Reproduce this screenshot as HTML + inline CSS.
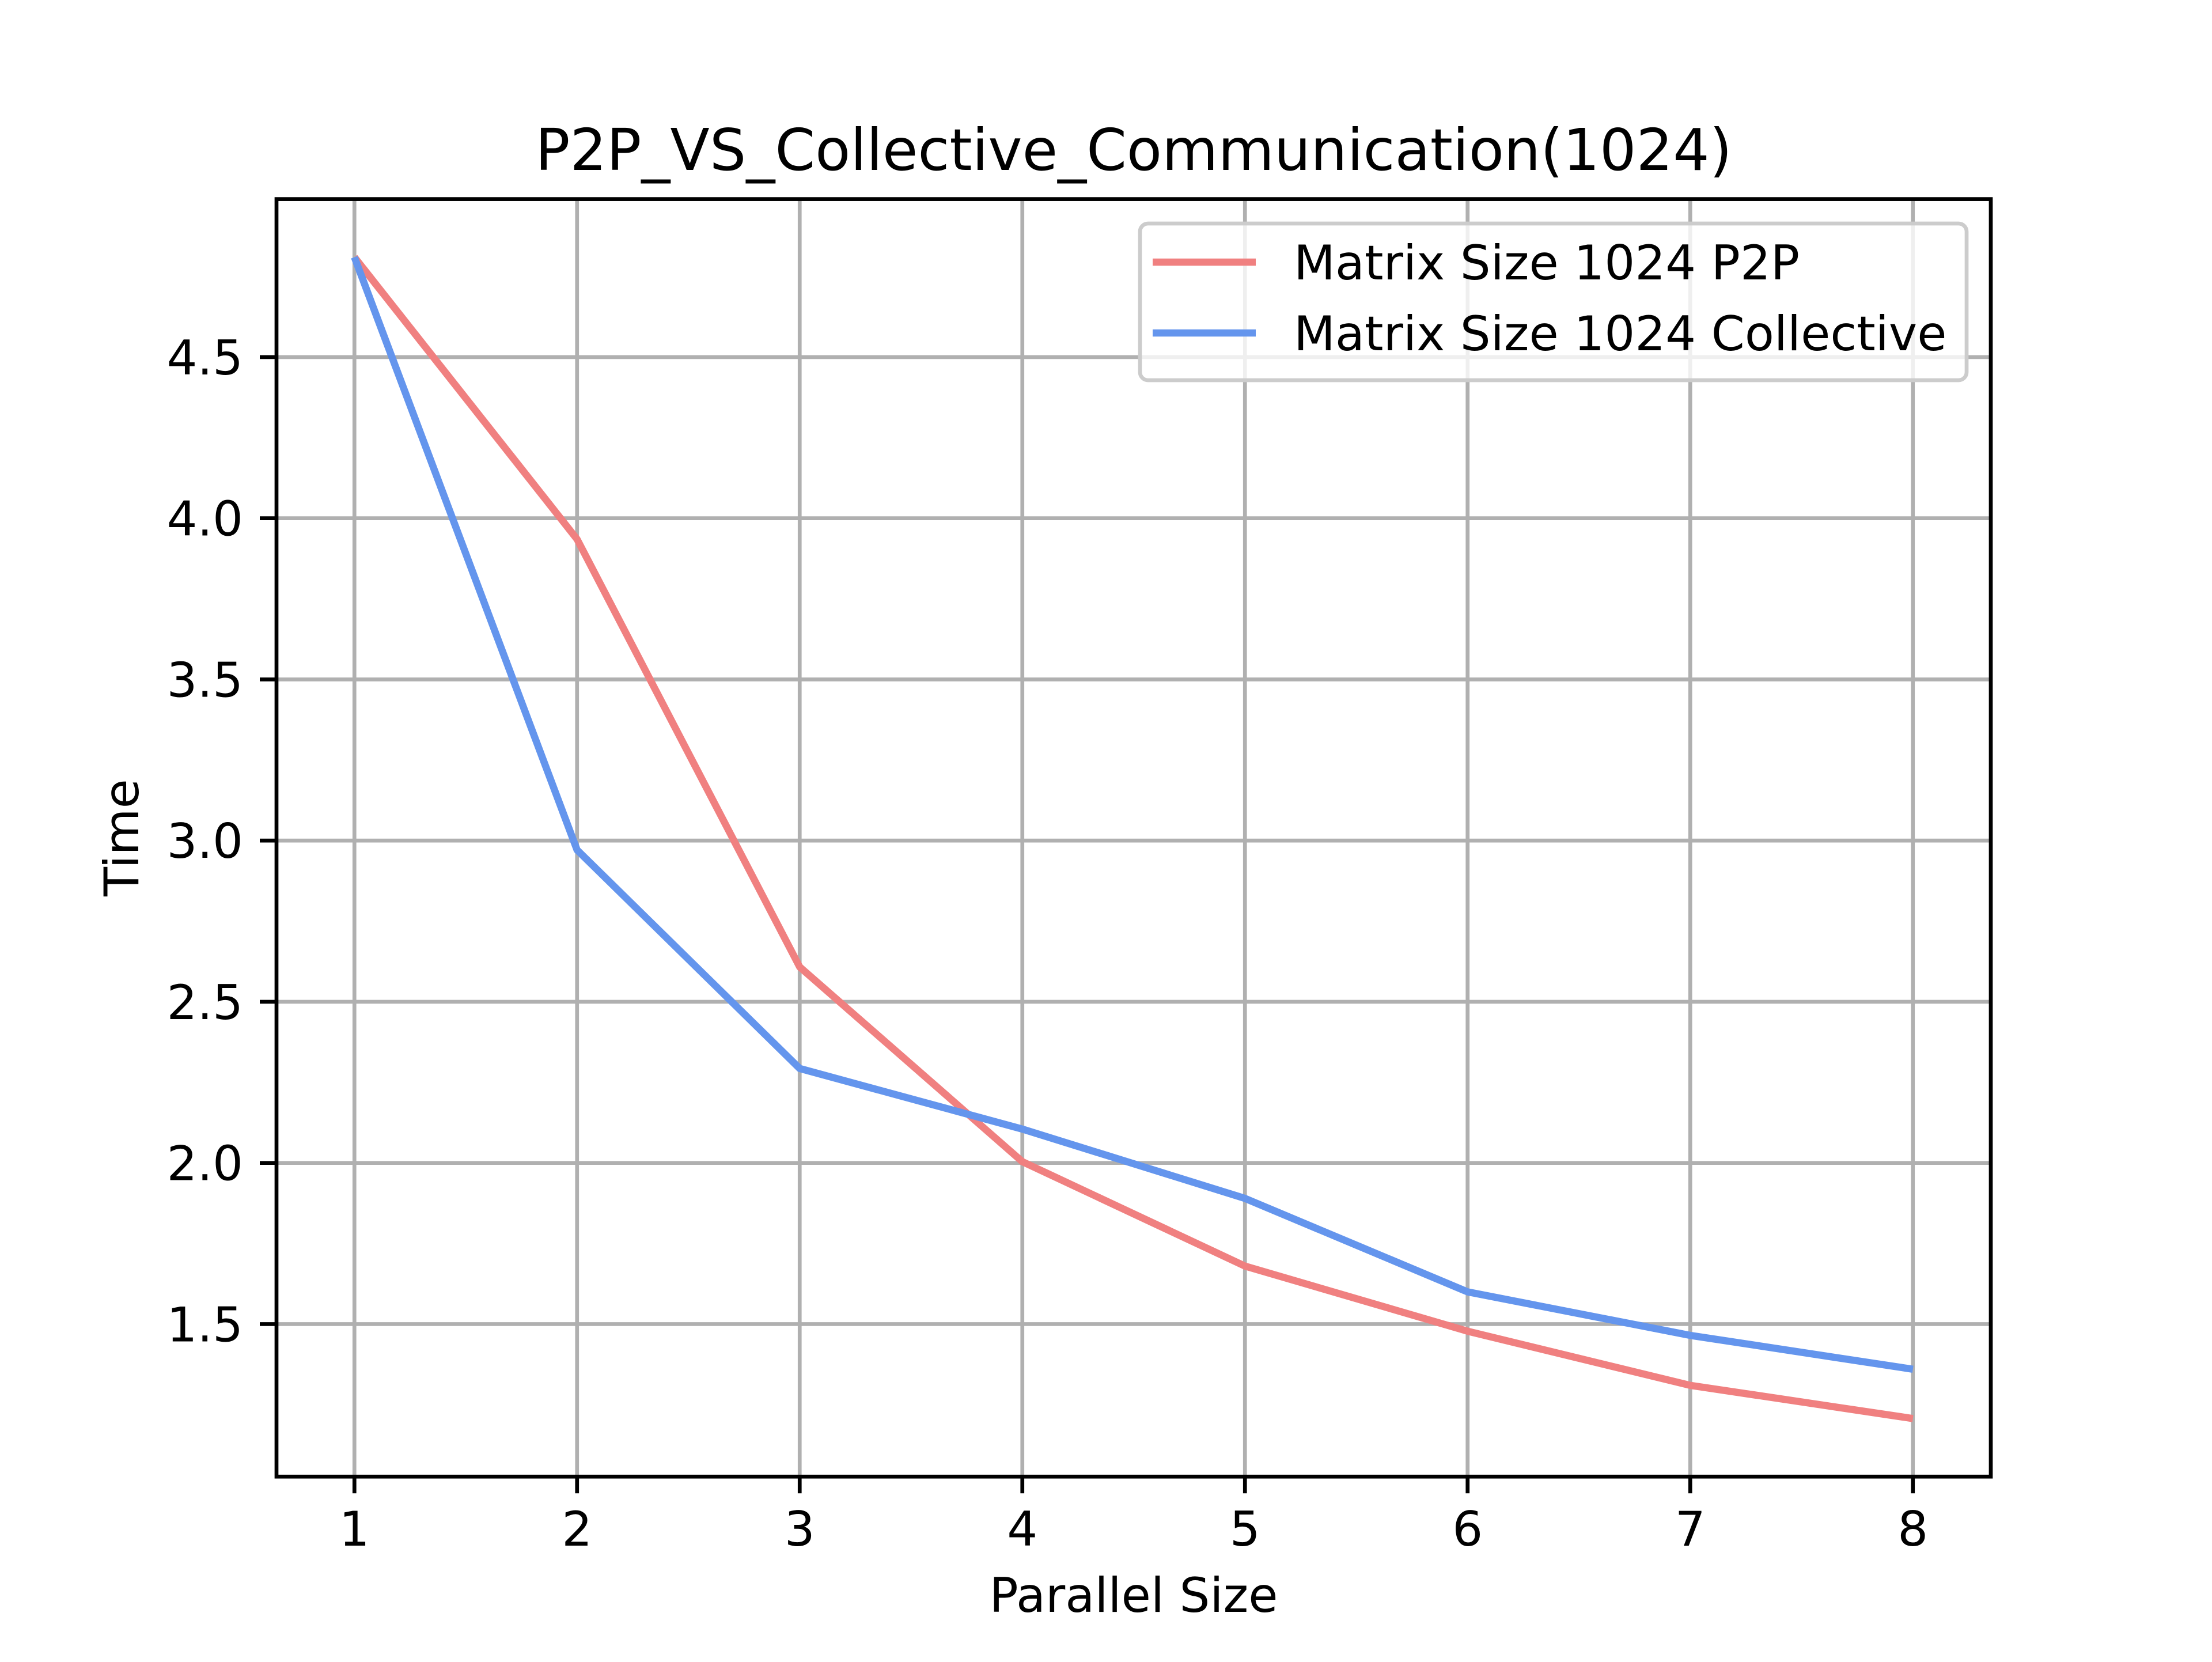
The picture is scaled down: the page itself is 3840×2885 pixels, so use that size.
<!DOCTYPE html>
<html><head><meta charset="utf-8"><style>
html,body{margin:0;padding:0;background:#fff}
svg text{font-family:"DejaVu Sans","Liberation Sans",sans-serif;fill:#000}
</style></head><body>
<svg id="chart" width="3840" height="2880" viewBox="0 0 3840 2880" xmlns="http://www.w3.org/2000/svg">
<rect width="3840" height="2880" fill="#fff"/>
<g id="grid"></g>
<g id="series"></g>
<rect x="480" y="345.6" width="2976" height="2217.6" fill="none" stroke="#000" stroke-width="6.7"/>
<g id="ticks"></g>
<text x="1968" y="295" font-size="100" text-anchor="middle">P2P_VS_Collective_Communication(1024)</text>
<text x="1968" y="2798" font-size="83.3" text-anchor="middle">Parallel Size</text>
<text x="0" y="0" font-size="83.3" text-anchor="middle" transform="translate(240,1454) rotate(-90)">Time</text>
<g>
<rect x="1979" y="388" width="1435" height="272" rx="14" fill="#fff" fill-opacity="0.8" stroke="#ccc" stroke-width="6.7"/>
<line x1="2001" y1="455" x2="2180" y2="455" stroke="#f08080" stroke-width="12.5"/>
<text x="2246" y="485" font-size="83.3">Matrix Size 1024 P2P</text>
<line x1="2001" y1="578" x2="2180" y2="578" stroke="#6495ed" stroke-width="12.5"/>
<text x="2246" y="608" font-size="83.3">Matrix Size 1024 Collective</text>
</g>
</svg>
<script>
const categories = [1,2,3,4,5,6,7,8];
const p2pValues = [4.81,3.935,2.608,2.004,1.68,1.478,1.31,1.207];
const collectiveValues = [4.81,2.971,2.293,2.105,1.89,1.60,1.465,1.36];
const xTickLabels = ["1","2","3","4","5","6","7","8"];
const yTickValues = [1.5,2.0,2.5,3.0,3.5,4.0,4.5];
const yTickLabels = ["1.5","2.0","2.5","3.0","3.5","4.0","4.5"];

const NS="http://www.w3.org/2000/svg";
const L=480,R=3456,T=345.6,B=2563.2;
const all=p2pValues.concat(collectiveValues);
const ymin=Math.min(...all),ymax=Math.max(...all),ym=(ymax-ymin)*0.05;
const y0=ymin-ym,y1=ymax+ym;
const xmin=Math.min(...categories),xmax=Math.max(...categories),xm=(xmax-xmin)*0.05;
const x0=xmin-xm,x1=xmax+xm;
function sx(v){return L+(v-x0)/(x1-x0)*(R-L);}
function sy(v){return B-(v-y0)/(y1-y0)*(B-T);}
function mk(tag,attrs,parent){const e=document.createElementNS(NS,tag);for(const k in attrs)e.setAttribute(k,attrs[k]);parent.appendChild(e);return e;}
const grid=document.getElementById('grid'),ticks=document.getElementById('ticks'),series=document.getElementById('series');
categories.forEach((c,i)=>{
  const x=sx(c);
  const g=mk('line',{x1:x,x2:x,y1:T,y2:B,stroke:'#b0b0b0','stroke-width':6.7},grid);
  
  
  const t=mk('line',{x1:x,x2:x,y1:B,y2:B+29,stroke:'#000','stroke-width':6.7},ticks);
  
  
  const lb=mk('text',{x:x,y:B+120,'font-size':83.3,'text-anchor':'middle'},ticks);
  lb.textContent=xTickLabels[i];
  
  
});
yTickValues.forEach((v,i)=>{
  const y=sy(v);
  const g=mk('line',{x1:L,x2:R,y1:y,y2:y,stroke:'#b0b0b0','stroke-width':6.7},grid);
  
  
  const t=mk('line',{x1:L-29,x2:L,y1:y,y2:y,stroke:'#000','stroke-width':6.7},ticks);
  
  
  const lb=mk('text',{x:L-58,y:y+30,'font-size':83.3,'text-anchor':'end'},ticks);
  lb.textContent=yTickLabels[i];
  
  
});
function draw(vals,color,name){
  const pts=vals.map((v,i)=>sx(categories[i])+','+sy(v)).join(' ');
  const p=mk('polyline',{points:pts,fill:'none',stroke:color,'stroke-width':12.5,'stroke-linejoin':'round'},series);
  
  
}
draw(p2pValues,'#f08080','p2p-line');
draw(collectiveValues,'#6495ed','collective-line');
</script>
</body></html>
